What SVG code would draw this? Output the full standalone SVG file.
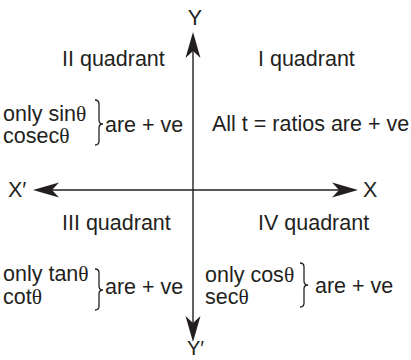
<svg xmlns="http://www.w3.org/2000/svg" width="411" height="360" viewBox="0 0 411 360">
<style>
  text { font-family: "Liberation Sans", Arial, sans-serif; font-size: 21.5px; fill: #231f20; }
  .th { font-family: "Liberation Serif", "Times New Roman", serif; }
  .axis { stroke: #231f20; stroke-width: 1.4; fill: none; }
  .brace { stroke: #231f20; stroke-width: 1.3; fill: none; }
</style>
<defs>
  <marker id="stealth" viewBox="-20 -10 32 20" markerWidth="32" markerHeight="20" refX="0" refY="0" markerUnits="userSpaceOnUse" orient="auto-start-reverse" overflow="visible">
    <path d="M10,0 L-16,-7.5 L-9,0 L-16,7.5 Z" fill="#231f20"/>
  </marker>
</defs>
<rect width="411" height="360" fill="#ffffff"/>
<g id="connectors">
  <line class="axis" x1="43" y1="190" x2="348" y2="190" marker-start="url(#stealth)" marker-end="url(#stealth)"/>
  <line class="axis" x1="193" y1="42" x2="193" y2="332" marker-start="url(#stealth)" marker-end="url(#stealth)"/>
</g>
<g id="axis-labels">
  <text x="195" y="25" text-anchor="middle">Y</text>
  <text x="187" y="355" style="font-size:20px">Y′</text>
  <text x="8" y="197">X′</text>
  <text x="363" y="197">X</text>
</g>
<g id="quadrant-II">
  <text x="62" y="66">II quadrant</text>
  <text x="3" y="121">only sin<tspan class="th">θ</tspan></text>
  <text x="3" y="143">cosec<tspan class="th">θ</tspan></text>
  <path class="brace" d="M95,100 Q99,100 99,104 L99,120 Q99,124 103,124 Q99,124 99,128 L99,141 Q99,145 95,145"/>
  <text x="105" y="132">are + ve</text>
</g>
<g id="quadrant-I">
  <text x="258" y="66">I quadrant</text>
  <text x="212" y="131">All t = ratios are + ve</text>
</g>
<g id="quadrant-III">
  <text x="62" y="230">III quadrant</text>
  <text x="3" y="281">only tan<tspan class="th">θ</tspan></text>
  <text x="3" y="304">cot<tspan class="th">θ</tspan></text>
  <path class="brace" d="M95,269 Q99,269 99,273 L99,286 Q99,290 103,290 Q99,290 99,294 L99,306 Q99,310 95,310"/>
  <text x="105" y="294">are + ve</text>
</g>
<g id="quadrant-IV">
  <text x="258" y="230">IV quadrant</text>
  <text x="205" y="282">only cos<tspan class="th">θ</tspan></text>
  <text x="205" y="304">sec<tspan class="th">θ</tspan></text>
  <path class="brace" d="M300,263 Q304,263 304,267 L304,281 Q304,285 308,285 Q304,285 304,289 L304,303 Q304,307 300,307"/>
  <text x="315" y="293">are + ve</text>
</g>
</svg>
